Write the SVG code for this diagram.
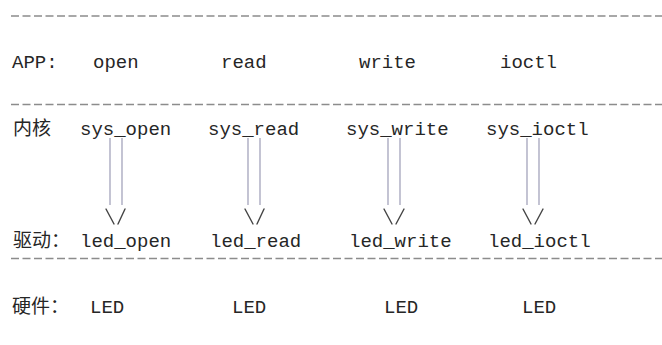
<svg xmlns="http://www.w3.org/2000/svg" width="662" height="345" viewBox="0 0 662 345">
  <style>
    .t { font-family: "Liberation Mono", "Noto Sans CJK SC", monospace; font-size: 19px; fill: #262626; }
    .cjk { font-family: "Noto Sans CJK SC", "Liberation Mono", sans-serif; font-size: 19px; fill: #262626; }
    .rule { stroke: #8c8c8c; stroke-width: 1.6; stroke-dasharray: 8 3.5; fill: none; }
    .shaft { stroke: #a4a4bc; stroke-width: 1.3; fill: none; }
    .head { stroke: #444; stroke-width: 1.4; fill: none; stroke-linecap: round; }
  </style>
  <rect width="662" height="345" fill="#ffffff"/>

  <!-- layer separators -->
  <g id="separators">
    <line class="rule" x1="11" y1="16" x2="662" y2="16"/>
    <line class="rule" x1="11" y1="104.5" x2="662" y2="104.5"/>
    <line class="rule" x1="11" y1="258.5" x2="662" y2="258.5"/>
  </g>

  <!-- row labels -->
  <g id="labels">
    <text class="t" x="12" y="68">APP:</text>
    <text class="cjk" x="13" y="135">内核</text>
    <text class="cjk" x="13" y="247">驱动：</text>
    <text class="cjk" x="12" y="313">硬件：</text>
  </g>

  <!-- application calls -->
  <g id="app-open"><text class="t" x="93" y="68">open</text></g>
  <g id="app-read"><text class="t" x="221" y="68">read</text></g>
  <g id="app-write"><text class="t" x="359" y="68">write</text></g>
  <g id="app-ioctl"><text class="t" x="500" y="68">ioctl</text></g>

  <!-- kernel entry points -->
  <g id="sys-open"><text class="t" x="80" y="135">sys_open</text></g>
  <g id="sys-read"><text class="t" x="208" y="135">sys_read</text></g>
  <g id="sys-write"><text class="t" x="346" y="135">sys_write</text></g>
  <g id="sys-ioctl"><text class="t" x="486" y="135">sys_ioctl</text></g>

  <!-- driver functions -->
  <g id="led-open"><text class="t" x="80" y="247">led_open</text></g>
  <g id="led-read"><text class="t" x="210" y="247">led_read</text></g>
  <g id="led-write"><text class="t" x="349" y="247">led_write</text></g>
  <g id="led-ioctl"><text class="t" x="488" y="247">led_ioctl</text></g>

  <!-- hardware -->
  <g id="hw-1"><text class="t" x="90" y="313">LED</text></g>
  <g id="hw-2"><text class="t" x="232" y="313">LED</text></g>
  <g id="hw-3"><text class="t" x="384" y="313">LED</text></g>
  <g id="hw-4"><text class="t" x="522" y="313">LED</text></g>

  <!-- double-line arrows from kernel to driver -->
  <g id="connectors">
    <g>
      <line class="shaft" x1="110" y1="138" x2="110" y2="205"/>
      <line class="shaft" x1="122" y1="138" x2="122" y2="205"/>
      <path class="head" d="M106 209 L114 224 M118 224 L125 209"/>
    </g>
    <g>
      <line class="shaft" x1="248" y1="138" x2="248" y2="205"/>
      <line class="shaft" x1="260" y1="138" x2="260" y2="205"/>
      <path class="head" d="M245 209 L253 224 M257 224 L264 209"/>
    </g>
    <g>
      <line class="shaft" x1="388" y1="138" x2="388" y2="205"/>
      <line class="shaft" x1="400" y1="138" x2="400" y2="205"/>
      <path class="head" d="M384 209 L392 224 M396 224 L404 209"/>
    </g>
    <g>
      <line class="shaft" x1="527" y1="138" x2="527" y2="205"/>
      <line class="shaft" x1="539" y1="138" x2="539" y2="205"/>
      <path class="head" d="M523 209 L531 224 M535 224 L543 209"/>
    </g>
  </g>
</svg>
